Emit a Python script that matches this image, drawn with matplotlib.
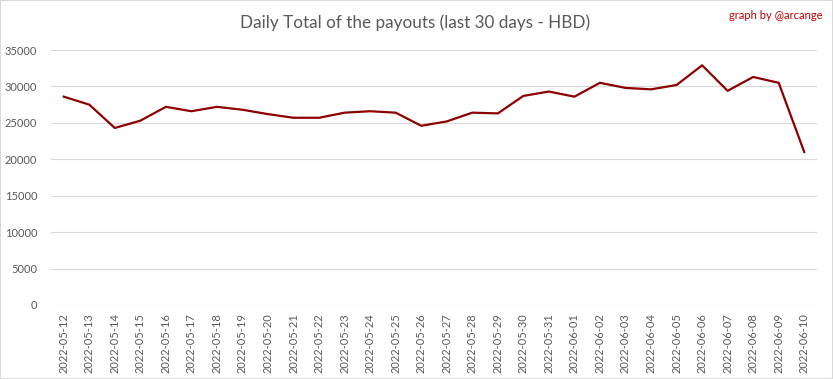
import matplotlib.pyplot as plt
from matplotlib.patches import Rectangle

dates = ['2022-05-12', '2022-05-13', '2022-05-14', '2022-05-15', '2022-05-16',
         '2022-05-17', '2022-05-18', '2022-05-19', '2022-05-20', '2022-05-21',
         '2022-05-22', '2022-05-23', '2022-05-24', '2022-05-25', '2022-05-26',
         '2022-05-27', '2022-05-28', '2022-05-29', '2022-05-30', '2022-05-31',
         '2022-06-01', '2022-06-02', '2022-06-03', '2022-06-04', '2022-06-05',
         '2022-06-06', '2022-06-07', '2022-06-08', '2022-06-09', '2022-06-10']
payouts = [28600, 27500, 24300, 25300, 27200, 26600, 27200, 26800, 26200, 25700,
           25700, 26400, 26600, 26400, 24600, 25200, 26400, 26300, 28700, 29300,
           28600, 30500, 29800, 29600, 30200, 32900, 29400, 31300, 30500, 21000]
yticks = [0, 5000, 10000, 15000, 20000, 25000, 30000, 35000]

plt.rcParams['font.family'] = ['Lato', 'DejaVu Sans']
grey = '#595959'

fig = plt.figure(figsize=(8.33, 3.79), dpi=100)
ax = fig.add_axes([0.0612, 0.1953, 0.9196, 0.6727])

x = list(range(len(dates)))
ax.plot(x, payouts, color='#8E0000', linewidth=1.6, solid_joinstyle='round')

ax.set_xlim(-0.5, len(dates) - 0.5)
ax.set_ylim(0, 35000)
ax.set_yticks(yticks)
ax.set_yticklabels([str(v) for v in yticks])
ax.set_xticks(x)
ax.set_xticklabels(dates, rotation=90)
ax.tick_params(axis='both', length=0, colors=grey, labelsize=8)
ax.tick_params(axis='y', pad=10)
ax.tick_params(axis='x', pad=6)
ax.grid(axis='y', color='#D9D9D9', linewidth=0.8)
ax.set_axisbelow(True)
for s in ax.spines.values():
    s.set_visible(False)

fig.text(0.498, 0.94, 'Daily Total of the payouts (last 30 days - HBD)',
         ha='center', va='center', fontsize=12.3, color=grey)
fig.text(0.987, 0.96, 'graph by @arcange', ha='right', va='center',
         fontsize=8, color='#C00000')

fig.patches.append(Rectangle((0, 0), 1, 1, transform=fig.transFigure,
                             fill=False, edgecolor='#D9D9D9', linewidth=1.5))

fig.savefig('out.png', dpi=100)
